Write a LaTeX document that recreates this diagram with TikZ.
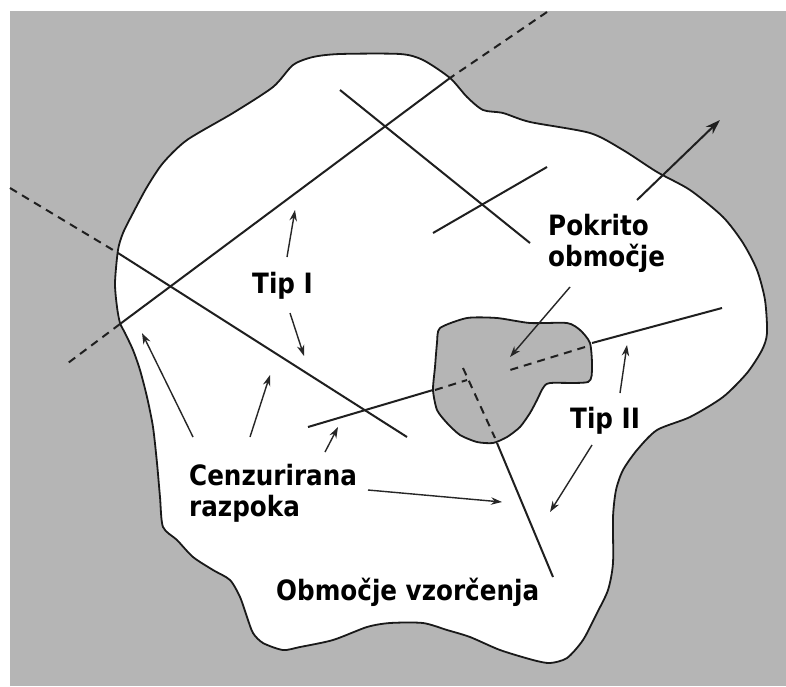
\documentclass[tikz,border=0pt]{standalone}
\usepackage{fontspec}
\setmainfont{DejaVu Sans}[FakeStretch=0.88]
\usepackage{xcolor}
\usetikzlibrary{arrows.meta}
\definecolor{bggray}{gray}{0.71}

\begin{document}
\begin{tikzpicture}[
  x=1pt, y=-1pt,
  font=\fontsize{28}{31}\selectfont\bfseries,
  outline/.style={draw=black!90, line width=1.8pt},
  crack/.style={black!88, line width=2pt},
  hidden/.style={crack, dash pattern=on 8pt off 6pt},
  pointer/.style={black!85, line width=1.4pt, -{Stealth[length=11pt,width=7.5pt]}},
  bigpointer/.style={crack, -{Stealth[length=15pt,width=10pt]}},
  lab/.style={inner sep=0pt, text=black}
]
\useasboundingbox (0,0) rectangle (786,686);
% background
\fill[bggray] (10,11) rectangle (786,686);
% sampling region
\filldraw[fill=white, outline] plot[smooth cycle, tension=0.45] coordinates {
  (340,54) (400,54) (423,60) (450,78) (467,97) (483,110) (503,113) (530,122)
  (590,133) (623,150) (657,172) (690,190) (723,217) (743,243) (757,270)
  (765,300) (767,333) (762,350) (747,373) (723,397) (690,417) (657,430)
  (637,450) (623,470) (616,490) (613,517) (613,563) (608,590) (597,613)
  (583,640) (567,658) (550,663) (533,660) (500,650) (470,637) (447,630)
  (423,623) (390,623) (367,627) (333,640) (300,647) (283,650) (263,643)
  (253,633) (247,617) (240,597) (230,580) (213,570) (193,557) (177,540)
  (163,527) (160,497) (157,463) (153,427) (147,397) (140,370) (133,350)
  (125,333) (120,323) (117,307) (115,283) (118,250) (123,233) (133,213)
  (147,187) (163,163) (187,140) (233,113) (273,87) (293,65) (313,57)};
% cracks
\draw[hidden] (547,12) -- (450,78);
\draw[crack] (450,78) -- (120,324);
\draw[hidden] (120,324) -- (68,363);
\draw[hidden] (10,188) -- (118,253);
\draw[crack] (118,253) -- (407,437);
\draw[crack] (340,90) -- (530,243);
\draw[crack] (433,233) -- (547,167);
\draw[crack] (722,308) -- (592,343);
\draw[crack] (308,427) -- (433,390);
\draw[crack] (497,443) -- (553,577);
% covered region
\filldraw[fill=bggray, outline] plot[smooth cycle, tension=0.4] coordinates {
  (440,328) (467,318) (497,318) (530,323) (567,323) (580,330) (590,343)
  (592,367) (588,382) (550,383) (543,388) (537,400) (530,413) (520,427)
  (507,437) (493,443) (477,442) (460,435) (447,423) (437,410) (433,390)
  (435,367) (437,343)};
\draw[hidden] (585,347) -- (510,370);
\draw[hidden] (435,390) -- (467,380);
\draw[hidden] (463,368) -- (495,438);
% labels
\node[lab, anchor=base west] (tip1) at (252,293) {Tip I};
\node[lab, anchor=base west] (tip2) at (570,428) {Tip II};
\node[lab, anchor=north west, align=left] (pokrito) at (548,214) {Pokrito\\območje};
\node[lab, anchor=north west, align=left] (cenz) at (189,464) {Cenzurirana\\razpoka};
\node[lab, anchor=base west] (obmocje) at (276,600) {Območje vzorčenja};
% arrows
\coordinate (t1a) at (287,257);  \coordinate (t1b) at (295,210);
\coordinate (t1c) at (290,313);  \coordinate (t1d) at (304,356);
\coordinate (c1a) at (193,437);  \coordinate (c1b) at (142,333);
\coordinate (c2a) at (250,437);  \coordinate (c2b) at (270,375);
\coordinate (c3a) at (325,452);  \coordinate (c3b) at (338,427);
\coordinate (c4a) at (368,490);  \coordinate (c4b) at (502,502);
\coordinate (t2a) at (620,393);  \coordinate (t2b) at (627,345);
\coordinate (t2c) at (592,445);  \coordinate (t2d) at (550,512);
\coordinate (pka) at (570,287);  \coordinate (pkb) at (510,357);
\foreach \s/\e in {t1a/t1b, t1c/t1d, c1a/c1b, c2a/c2b, c3a/c3b, c4a/c4b,
                   t2a/t2b, t2c/t2d, pka/pkb}
  \draw[pointer] (\s) -- (\e);
\coordinate (outa) at (637,200); \coordinate (outb) at (720,120);
\draw[bigpointer] (outa) -- (outb);
\end{tikzpicture}
\end{document}
